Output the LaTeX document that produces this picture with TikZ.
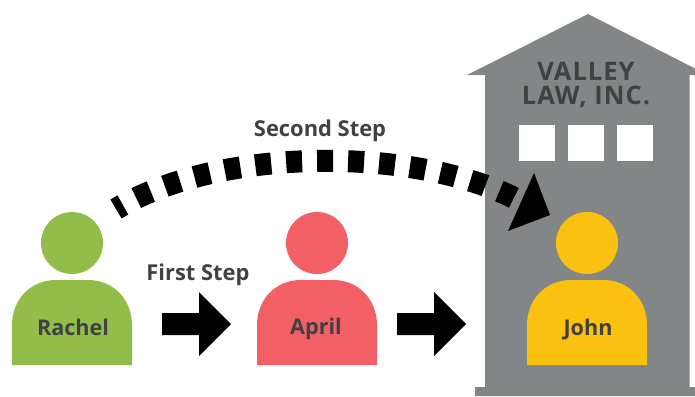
\documentclass[tikz,border=0pt]{standalone}
\usepackage{fontspec}
\setmainfont{Open Sans}
\definecolor{bldg}{HTML}{838686}
\definecolor{inktext}{HTML}{414042}
\definecolor{grn}{HTML}{92BD4B}
\definecolor{rd}{HTML}{F26065}
\definecolor{yl}{HTML}{FBC111}
\tikzset{
  lbl/.style={font=\fontsize{21.6}{24}\selectfont\bfseries,text=inktext,inner sep=0pt,anchor=base},
  steplbl/.style={font=\fontsize{21.9}{24}\selectfont\bfseries,text=inktext,inner sep=0pt,anchor=base},
  bldglbl/.style={font=\fontsize{25.5}{24}\selectfont\bfseries\addfontfeatures{LetterSpace=4},text=inktext,inner sep=0pt,align=center,anchor=center},
  win/.style={fill=white},
  blockarrow/.style={fill=black}
}
\newcommand{\person}[2]{%
  \fill[#2] (#1,243) circle (31);
  \fill[#2] ({#1-60},365) -- ({#1-60},325) .. controls ({#1-60},300) and ({#1-42},280) .. ({#1-16},280)
    -- ({#1+16},280) .. controls ({#1+42},280) and ({#1+60},300) .. ({#1+60},325) -- ({#1+60},365) -- cycle;
}
\begin{document}
\begin{tikzpicture}[x=1pt,y=-1pt]
\useasboundingbox (0,0) rectangle (695,396);
% building
\fill[bldg] (588,14) -- (695,68.5) -- (695,75) -- (689.5,75) -- (689.5,387) -- (695,387) -- (695,396) -- (475,396) -- (475,387) -- (485,387) -- (485,75) -- (467,75) -- cycle;
\fill[win] (519,125) rectangle (555,161);
\fill[win] (568,125) rectangle (604,161);
\fill[win] (617,125) rectangle (653,161);
\node[bldglbl] (firm) at (586,85) {VALLEY\\LAW, INC.};
% people
\person{72}{grn}
\person{317}{rd}
\person{587}{yl}
\node[lbl] (rachel) at (73,335) {Rachel};
\node[lbl] (april) at (316,334) {April};
\node[lbl] (john) at (588,335) {John};
\node[steplbl] (first) at (198,280) {First Step};
\node[steplbl] (second) at (320,136) {Second Step};
% block arrows
\fill[blockarrow] (162,313) -- (199,313) -- (199,292) -- (231,324) -- (199,356) -- (199,335) -- (162,335) -- cycle;
\fill[blockarrow] (397,313) -- (434,313) -- (434,292) -- (466,324) -- (434,356) -- (434,335) -- (397,335) -- cycle;
% curved dashed arrow
\coordinate (cstart) at (116,209);
\coordinate (cend) at (522,202);
\draw[black,line width=22pt,dash pattern=on 16pt off 15pt,dash phase=8pt] (cstart) .. controls (220,146) and (420,146) .. (cend);
\fill[black] (534,173) -- (550,215) -- (508,231) -- cycle;
\end{tikzpicture}
\end{document}
